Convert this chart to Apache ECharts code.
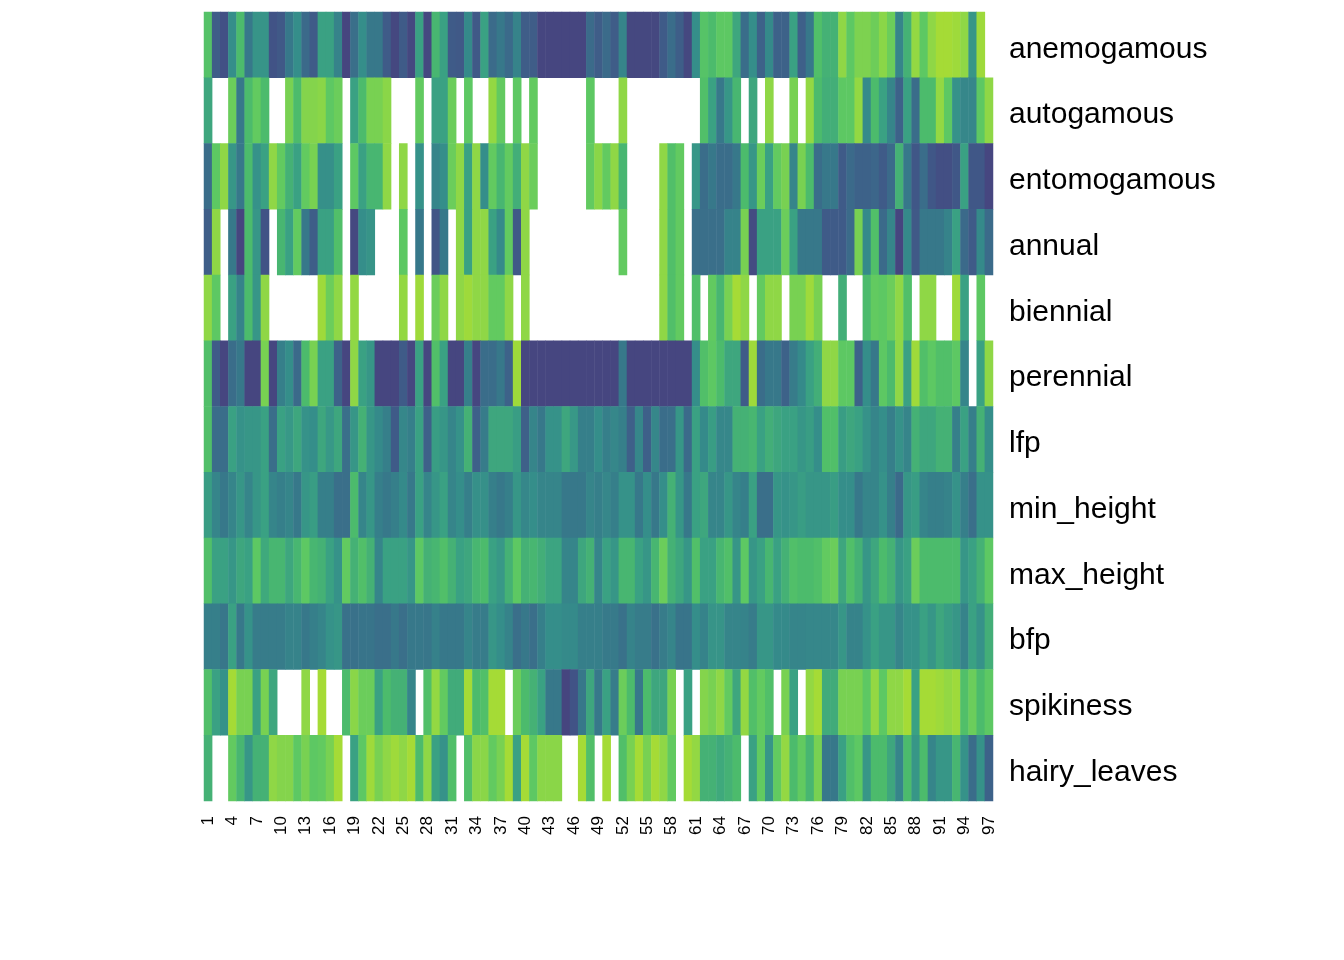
<!DOCTYPE html>
<html>
<head>
<meta charset="utf-8">
<script src="https://cdn.jsdelivr.net/npm/echarts@6/dist/echarts.min.js"></script>
<style>
html,body{margin:0;padding:0;background:#fff;}
#chart{width:1344px;height:960px;}
</style>
</head>
<body>
<div id="chart"></div>
<script>
// Row (trait) names, top to bottom
const traits = ["anemogamous","autogamous","entomogamous","annual","biennial","perennial","lfp","min_height","max_height","bfp","spikiness","hairy_leaves"];
// Column (species) labels 1..97
const species = Array.from({length: 97}, (_, i) => String(i + 1));
// Colour scale (low -> high)
const palette = ["#46457F","#415386","#3C668A","#37788A","#358E8A","#3AA183","#4CBB6C","#5DC863","#78D152","#8FD746","#A5DB36"];

// values per trait, columns 1..97 (null = missing)
const anemogamous = [6.5,1.5,0.8,4,6,3,4.3,4.3,1,1.3, 3,4,2.2,1.4,5,5,3.5,0,2.5,4, 3,3,1.4,0.2,1.4,0.2,5,0.2,5.8,5, 1.4,1.3,3.8,1.3,5,2.3,3,2.2,3.5,1.5, 1.5,0.1,0.1,0.1,0.1,0.1,0.1,2.3,1.5,2.3, 1.5,3.6,0.2,0.2,0.2,0.2,1.4,2.4,1.6,0.2, 4,6.6,6,7,7,5.2,2.4,4,1.8,3.8, 1.8,1.8,5,1.7,3,6.3,5.6,5.6,9,7, 8.2,8.2,7.6,8.8,7.5,3.6,5.6,9.2,7,9, 10,10,9.7,9,4.4,9.7,null];
const autogamous = [5.2,null,null,7.5,3,6,7.2,6,null,null, 8,6,8.5,8.5,8.8,7,7.5,null,5,6, 8,8,8.8,null,null,null,7.2,null,5,5, 7.5,null,7,null,null,9.2,7.2,null,7,null, 7.2,null,null,null,null,null,null,7,null,null, null,9,null,null,null,null,null,null,null,null, null,6.3,5,3,4.4,5.8,null,5.2,null,9, null,null,8,null,9.2,6,5.5,5.5,7,7, 9.2,3.8,6,5,3.6,1.8,5,2.4,6,6, 9.2,7,4.2,3.7,3.7,7,9];
const entomogamous = [2.4,7,9,4.4,3,6,4.2,5,9,7.2, 5.6,5,7.2,8,4.1,4.1,5,null,7,5, 5.8,5.8,9,null,9,null,4.2,null,3.6,4, 7.5,9,5,9,4,7.2,5.8,7.2,5.5,9, 7.5,null,null,null,null,null,null,7.2,8.8,7.2, 9,5.8,null,null,null,null,9,6.3,7.2,null, 4.4,2.4,3,2.4,2.4,3,6,4.4,7.5,5, 7.2,8,3.6,8,6,2.4,3,3,1.4,2.2, 1.8,1.8,2,1.4,2.2,5.6,3,1.2,2.4,1.2, 0.7,0.7,1.2,5,1.2,1.2,0.1];
const annual = [1.6,9,null,3,0,6,4.4,1,null,5.8, 5,7.2,3,1.6,5,5,6.3,null,0.2,4, 4.3,null,null,null,7,null,3,null,1.1,3, null,9,5,9,9,5,3.8,7.2,1.3,9, null,null,null,null,null,null,null,null,null,null, null,7.2,null,null,null,null,9,6.3,7.2,null, 2.5,2.5,2.5,2.5,3.5,3.5,8,0.4,5,5, 5,7.5,5,3,3,3,1.4,1.4,1.4,2.3, 8,3.8,6.3,2.2,3.6,0,3.8,1.3,3,3, 3,3.5,5,2.2,1.4,3.8,2.3];
const biennial = [9,7,null,5,3.5,6,4.4,9,null,null, null,null,null,null,9.7,7.5,9,null,9.2,null, null,null,null,null,9.2,null,9.7,null,7.5,9, null,9,9.7,9,9,7.2,7.2,9,null,9, null,null,null,null,null,null,null,null,null,null, null,null,null,null,null,null,9,6.3,7.2,null, 6.3,null,7.2,5.8,8,10,9,null,7.2,9, 9,null,8,8,9.7,8,null,null,5.5,null, null,6,7.2,7,7.5,9,6.3,null,9,9, null,null,9.7,5,null,7,null];
const perennial = [6.3,1.4,0.1,2.4,3,0.1,0.1,8,0.1,3.3, 4,2.2,6,8,5,5,1.8,0.1,9,5, 4.4,0.1,0.1,0.1,1.4,0.1,5,0.1,6.3,5, 0.1,0.1,3.3,0.1,2.4,2.4,3,1.8,9.7,0.1, 0.1,0.1,0.1,0.1,0.1,0.1,0.1,0.1,0.1,0.1, 0.1,3,0.1,0.1,0.1,0.1,0.1,0.1,0.1,0.1, 4,6.3,7,6,5.2,5.2,1.4,9.7,2.4,3, 3,1.8,3.2,3.8,5,5.5,9,9,7,7, 1.8,4,3,7,6,9,5,9.7,6.3,7, 6.3,6.3,7,3.6,null,5,9];
const lfp = [6.3,2.4,2.4,5,4.2,4.4,4.4,5,2.4,5, 4.5,5.2,4.2,4,5.2,4.5,5.2,2.5,4.4,5.6, 4.4,3.8,3.3,1.4,3.7,3.3,5,1.7,4.8,4.4, 3.6,4.2,5.6,1.7,3.2,5.2,5.2,5.2,4.8,1.7, 3.6,3,4.2,4.2,5.2,4.5,3.3,3.3,4,3.3, 3.7,3.3,1.7,3.7,1.7,3.7,2.4,2.5,4.4,2.2, 5,3.8,4.8,3.7,3.7,5.6,5.6,5.8,5,5.5, 5.2,5,5,4.4,4.8,4,6.3,6.3,4.8,5.2, 5,4.2,3.6,4,3.3,4.2,3.6,5.6,5.2,5.2, 5.6,5.6,3.3,5,3.3,5.6,4];
const min_height = [4.8,3.6,3,3.6,4.4,3.6,4.4,5,3.6,3.3, 3.6,3,4.4,4.8,3.3,3.3,2.5,2.5,6,3.6, 4.4,3.3,3,3.3,3.8,3,5,3.6,4.4,5, 3.6,4,3.3,4.1,4.1,3.3,3,3.3,4.4,3.7, 4,3.6,3.6,3.6,3,3,3,3.6,3.3,3.7, 3.3,4.2,4.2,3,4,3,4,5.6,4.4,3, 5,5.2,3.6,3.6,4.4,3.6,3.3,5,2.5,2.5, 4.4,4.2,4.4,4.8,4.4,4.4,4.4,4.8,4,4, 3,3.6,3.6,4.2,3.3,2.2,4.4,4.8,3.6,3.3, 3.3,3.5,4.2,3.3,2.5,4.2,4.2];
const max_height = [6.3,5,5,4.4,5.2,5,7,5.3,5.8,5.8, 5.2,5.8,7,5.8,5.6,5,4.2,7.2,5.6,6.3, 5.6,3.6,5,5,5,4.4,7,5.6,5.8,6.3, 5.6,5,5.2,5.8,6,5,4.5,5.6,7,5.6, 5.8,5.5,5.1,5.1,3.6,3.6,5.2,5.6,3.6,5, 4.4,5.8,5.8,5,4.4,5.8,7.5,5.6,5.2,4.4, 6.3,5,5,5.8,6.3,4.4,7,4.4,5,5.8, 5,5.6,6.3,6,6,6.3,7.2,7.5,5.2,6.3, 5.6,4.4,5.2,6,5.6,4.4,5,7.5,6,6, 6,6,6,4.4,5,5.6,7];
const bfp = [3.3,3.3,2.9,5,3,4.2,3.2,3.2,3.2,3.2, 3.5,3.5,3,3.3,3.6,4.2,4.4,2.6,2.6,2.8, 2.8,2.5,2.5,3,2.5,3,3,2.9,3.4,3, 3,3,3.6,3.2,3.2,4.4,4,3.5,2.5,3, 2.5,3.3,4,4,3.8,3.8,3.3,3.3,3.3,3.1, 3.1,2.6,3.5,3.2,3.2,2.6,3.2,3.6,2.8,2.8, 4,3.5,4.3,4.3,3.6,3.6,3.5,3.2,4.4,4.4, 3.8,3.8,3.6,3.6,3.7,3.7,3.7,3.7,4.4,3.5, 3.5,4.2,5,4.4,4.4,3.6,4.2,4.2,5,4.4, 5.2,4.8,4.4,3.5,5,4.2,5.5];
const spikiness = [6.3,5,4.2,10,8,8,5,8,5.2,null, null,null,9,null,10,null,null,6,8.8,7.5, 7.5,5,6,5.6,5.6,3.6,null,6.3,9.2,7.2, 5.4,5.4,10,6,6.3,10,10,null,7.5,6, 5.6,5,3,3,0,1,3,5.2,3,5, 3.2,7.5,6,3,6,5.2,5.2,8,null,5, null,8.5,8,9,7.2,5.2,9.2,6.3,7.2,6.3, null,8,5,null,9.2,10,5.4,5.4,8,8, 8,7,9.2,7,9,9,10,5,10,10, 9.7,9.2,9.7,6.3,7.5,6,7];
const hairy_leaves = [5.6,null,null,7.2,5.8,4.4,5.6,5.6,9,8.5, 8.5,7,8,7,7.2,8,10,null,5,7, 9.7,8,9,9.7,9,10,6,9,5,4.2, 6.3,null,6.3,8.8,8.8,7.2,8,10,5,10, 7,8.8,8.8,8.8,null,null,10,6.3,null,10, null,6.3,8,10,8,10,9,7.2,null,10, 9.2,5.6,5.6,5.3,5.6,6,null,5,7.2,4.4, 7.2,9.2,6,7.2,5.8,8,3,3,5,6.3, 7,4.4,6,6,5.2,3.6,6,4.4,6,3.6, 4.4,4.4,5.8,4.2,2.4,4.2,1.8];

const rows = [anemogamous, autogamous, entomogamous, annual, biennial, perennial, lfp, min_height, max_height, bfp, spikiness, hairy_leaves];

const data = [];
rows.forEach((vals, r) => {
  vals.forEach((v, c) => {
    data.push([c, r, v === null ? '-' : v]);
  });
});

const chart = echarts.init(document.getElementById('chart'), null, {renderer: 'canvas'});
chart.setOption({
  backgroundColor: '#ffffff',
  animation: false,
  grid: {left: 204, top: 12, width: 789, height: 789, containLabel: false},
  xAxis: {
    type: 'category',
    data: species,
    axisLine: {show: false},
    axisTick: {show: false},
    splitLine: {show: false},
    splitArea: {show: false},
    axisLabel: {
      interval: 2,
      rotate: 90,
      margin: 15,
      fontSize: 17,
      color: '#000',
      fontFamily: 'Liberation Sans, Arial, sans-serif'
    }
  },
  yAxis: {
    type: 'category',
    data: traits,
    inverse: true,
    position: 'right',
    axisLine: {show: false},
    axisTick: {show: false},
    splitLine: {show: false},
    splitArea: {show: false},
    axisLabel: {
      margin: 16,
      formatter: function (v) { return '{t|' + v + '}'; },
      rich: {
        t: {
          fontSize: 30,
          color: '#000',
          padding: [9, 0, 0, 0],
          fontFamily: 'Liberation Sans, Arial, sans-serif'
        }
      }
    }
  },
  visualMap: {
    show: false,
    type: 'continuous',
    dimension: 2,
    min: 0,
    max: 10,
    inRange: {color: palette}
  },
  series: [{
    type: 'heatmap',
    data: data,
    itemStyle: {borderWidth: 0},
    emphasis: {disabled: true},
    progressive: 0
  }]
});
</script>
</body>
</html>
